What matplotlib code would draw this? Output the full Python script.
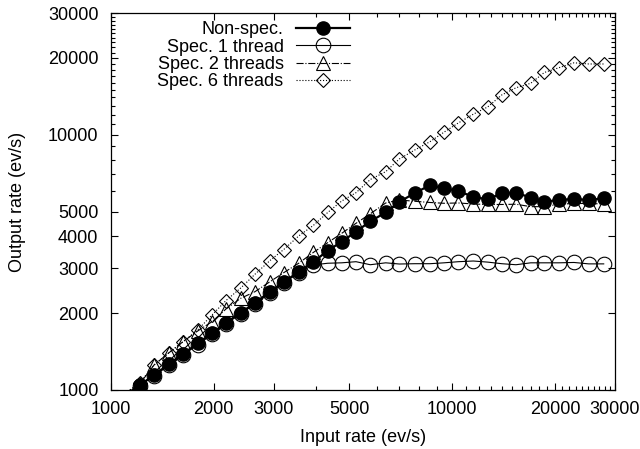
import matplotlib
matplotlib.use('Agg')
import matplotlib.pyplot as plt
from matplotlib.ticker import FixedLocator, NullFormatter, FuncFormatter

plt.rcParams['font.family'] = ['Liberation Sans', 'DejaVu Sans']
plt.rcParams['font.size'] = 13

# input rate (ev/s); first point sits below the axis, only its line shows
input_rate = [1100, 1216, 1337, 1479, 1626, 1795, 1977, 2173, 2400, 2642, 2924,
              3208, 3549, 3916, 4316, 4746, 5225, 5754, 6384, 6998, 7767, 8609,
              9462, 10420, 11530, 12706, 13970, 15380, 16990, 18620, 20520,
              22750, 25130, 27800]

non_spec = [956, 1046, 1145, 1264, 1384, 1524, 1668, 1835, 2009, 2193, 2428,
            2651, 2901, 3174, 3515, 3812, 4172, 4581, 4961, 5453, 5914, 6340,
            6172, 6025, 5705, 5588, 5899, 5931, 5669, 5468, 5553, 5603, 5553, 5639]

spec_1 = [950, 1040, 1135, 1250, 1370, 1505, 1650, 1815, 1990, 2170, 2400,
          2620, 2880, 3090, 3138, 3150, 3182, 3096, 3150, 3116, 3125, 3125,
          3150, 3182, 3202, 3170, 3125, 3096, 3150, 3150, 3150, 3160, 3120, 3120]

spec_2 = [970, 1060, 1253, 1400, 1546, 1703, 1852, 2077, 2287, 2428, 2657,
          2882, 3138, 3458, 3778, 4112, 4500, 4902, 5405, 5553, 5488, 5429,
          5390, 5405, 5356, 5332, 5332, 5344, 5228, 5228, 5344, 5380, 5380, 5356]

spec_6 = [970, 1070, 1253, 1400, 1546, 1718, 1967, 2242, 2510, 2841, 3216,
          3552, 4013, 4412, 4961, 5503, 5931, 6679, 7169, 8036, 8718, 9397,
          10237, 11124, 12043, 12853, 14322, 15283, 15915, 17543, 18303,
          19145, 18940, 18940]

x_major = [1000, 2000, 3000, 5000, 10000, 20000, 30000]
y_major = [1000, 2000, 3000, 4000, 5000, 10000, 20000, 30000]
minor = [4000, 6000, 7000, 8000, 9000] + list(range(11000, 20000, 1000)) + list(range(21000, 30000, 1000))

marks = list(range(1, len(input_rate)))

fig = plt.figure(figsize=(6.4, 4.49), dpi=100)
ax = fig.add_axes([111/640, 59/449, 504/640, 377/449])

ax.plot(input_rate, non_spec, '-o', color='black', lw=1.6, ms=9.5,
        markevery=marks, label='Non-spec.', zorder=5)
ax.plot(input_rate, spec_1, '-o', color='black', lw=0.8, ms=10.5, mfc='none',
        mew=0.8, markevery=marks, label='Spec. 1 thread', zorder=4)
ax.plot(input_rate, spec_2, '-.^', color='black', lw=0.8, ms=10, mfc='none',
        mew=0.8, markevery=marks, label='Spec. 2 threads', zorder=3)
ax.plot(input_rate, spec_6, ':D', color='black', lw=0.8, ms=7.5, mfc='none',
        mew=0.8, markevery=marks, label='Spec. 6 threads', zorder=3)

ax.set_xscale('log')
ax.set_yscale('log')
ax.set_xlim(1000, 30000)
ax.set_ylim(1000, 30000)

ax.xaxis.set_major_locator(FixedLocator(x_major))
ax.yaxis.set_major_locator(FixedLocator(y_major))
ax.xaxis.set_minor_locator(FixedLocator(minor))
ax.yaxis.set_minor_locator(FixedLocator([m for m in minor if m != 4000]))
fmt = FuncFormatter(lambda v, p: '%d' % v)
ax.xaxis.set_major_formatter(fmt)
ax.yaxis.set_major_formatter(fmt)
ax.xaxis.set_minor_formatter(NullFormatter())
ax.yaxis.set_minor_formatter(NullFormatter())

ax.tick_params(which='both', direction='in', top=True, right=True, width=0.8)
ax.tick_params(which='major', length=5)
ax.tick_params(which='minor', length=3)
ax.tick_params(axis='x', which='major', pad=8)
ax.tick_params(axis='y', which='major', pad=9)
for s in ax.spines.values():
    s.set_linewidth(0.9)

ax.set_xlabel('Input rate (ev/s)', labelpad=8)
ax.set_ylabel('Output rate (ev/s)', labelpad=16)

ax.legend(loc='upper right', bbox_to_anchor=(0.475, 0.978), frameon=False,
          markerfirst=False, borderpad=0, labelspacing=0.02, handlelength=3.0,
          handletextpad=0.7, borderaxespad=0, fontsize=13)

fig.savefig('out.png', dpi=100)
